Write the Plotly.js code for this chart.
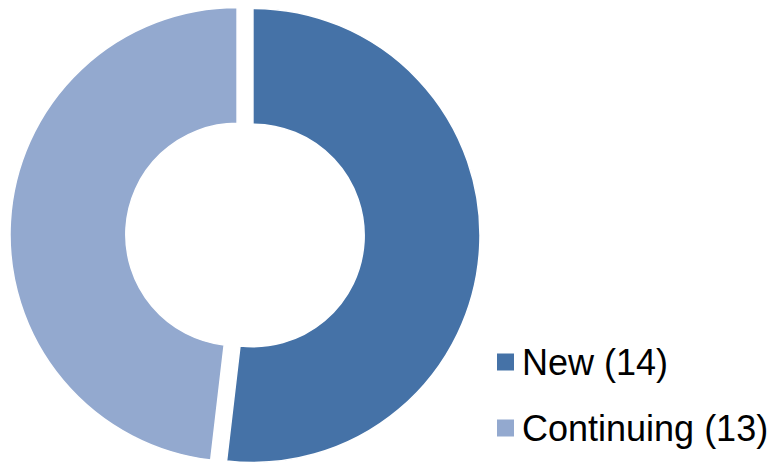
<!DOCTYPE html>
<html>
<head>
<meta charset="utf-8">
<script src="https://cdn.plot.ly/plotly-3.0.1.min.js"></script>
<style>html,body{margin:0;padding:0;background:#fff;overflow:hidden;}#chart{width:777px;height:470px;}</style>
</head>
<body>
<div id="chart"></div>
<script>
var labels = ["New", "Continuing"];
var values = [14, 13];
var colors = ["#4572A7", "#93A9CF"];

var W = 777, H = 470;
function px(x){ return x / W; }
function py(y){ return 1 - y / H; }

var trace = {
  type: "pie",
  labels: labels,
  values: values,
  hole: 0.49,
  sort: false,
  direction: "clockwise",
  rotation: 0,
  pull: [0.035, 0.035],
  textinfo: "none",
  hoverinfo: "label+value",
  marker: { colors: colors, line: { color: "#ffffff", width: 1.5 } },
  domain: { x: [px(10), px(480)], y: [0, 1] },
  showlegend: false
};

var legendRows = [362, 428];
var shapes = [], annotations = [];
labels.forEach(function(lab, i){
  var cy = legendRows[i];
  shapes.push({
    type: "rect", xref: "paper", yref: "paper",
    x0: px(497), x1: px(514), y0: py(cy - 8.5), y1: py(cy + 8.5),
    fillcolor: colors[i], line: { width: 0 }
  });
  annotations.push({
    xref: "paper", yref: "paper", x: px(520), y: py(cy),
    xanchor: "left", yanchor: "middle", showarrow: false,
    text: lab + " (" + values[i] + ")",
    font: { family: "Liberation Sans, Arial, sans-serif", size: 36, color: "#000000" }
  });
});

var layout = {
  width: W, height: H,
  margin: { l: 0, r: 0, t: 0, b: 0 },
  paper_bgcolor: "#ffffff",
  plot_bgcolor: "#ffffff",
  showlegend: false,
  shapes: shapes,
  annotations: annotations
};

Plotly.newPlot("chart", [trace], layout, { displayModeBar: false, staticPlot: true });
</script>
</body>
</html>
